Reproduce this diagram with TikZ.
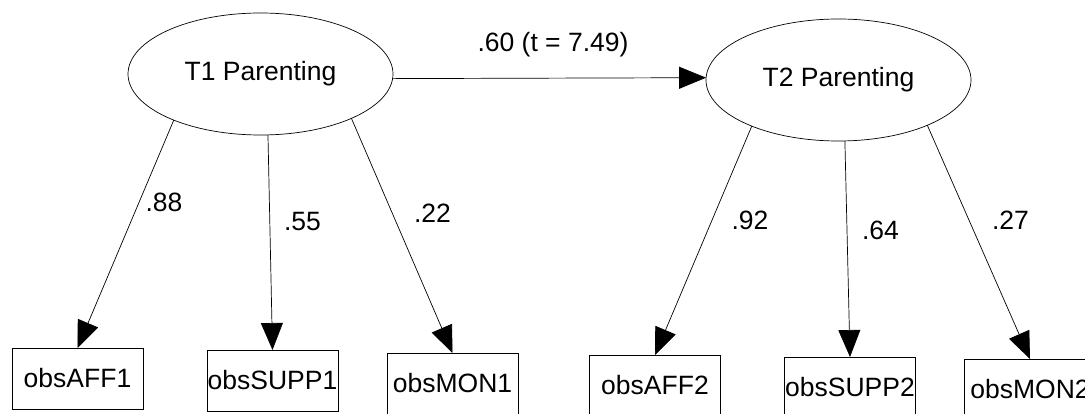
\documentclass[tikz,border=0pt]{standalone}
\usepackage{fontspec}
\setmainfont{Liberation Sans}
\usetikzlibrary{arrows.meta,shapes.geometric}
\begin{document}
\begin{tikzpicture}[x=1pt,y=-1pt,
  latent/.style={draw, ellipse, minimum width=265pt, minimum height=122pt, inner sep=0pt, outer sep=0pt, line width=0.7pt},
  obs/.style={draw, rectangle, minimum width=131pt, minimum height=61pt, inner sep=0pt, outer sep=0pt, line width=0.7pt},
  load/.style={-{Triangle[length=27pt,width=22pt]}, line width=0.7pt},
  coef/.style={inner sep=0pt},
  font=\fontsize{26.5}{30}\selectfont]
\useasboundingbox (0,0) rectangle (1085,414);
\clip (0,0) rectangle (1085,414);
% latent variables
\node[latent] (t1) at (260.5,74) {T1 Parenting};
\node[latent] (t2) at (838.5,80) {T2 Parenting};
% observed variables
\node[obs] (a1) at (77.5,378.5) {obsAFF1};
\node[obs] (s1) at (272.5,380.5) {obsSUPP1};
\node[obs] (m1) at (452.5,383.5) {obsMON1};
\node[obs] (a2) at (655,385.5) {obsAFF2};
\node[obs] (s2) at (850,387.5) {obsSUPP2};
\node[obs] (m2) at (1030,389.5) {obsMON2};
% structural path
\draw[load] (t1.358) -- (t2.179);
\node[coef] (c0) at (553,45) {.60 (t = 7.49)};
% loadings
\draw[load] (t1.208) -- (a1.north);
\draw[load] (t1.277) -- (s1.north);
\draw[load] (t1.334) -- (m1.north);
\draw[load] (t2.208) -- (a2.north);
\draw[load] (t2.276) -- (s2.north);
\draw[load] (t2.333) -- (m2.north);
% loading labels
\node[coef] (c1) at (164,202) {.88};
\node[coef] (c2) at (302.5,222) {.55};
\node[coef] (c3) at (432.5,213) {.22};
\node[coef] (c4) at (750,220) {.92};
\node[coef] (c5) at (880.5,230) {.64};
\node[coef] (c6) at (1010.5,220) {.27};
\end{tikzpicture}
\end{document}
